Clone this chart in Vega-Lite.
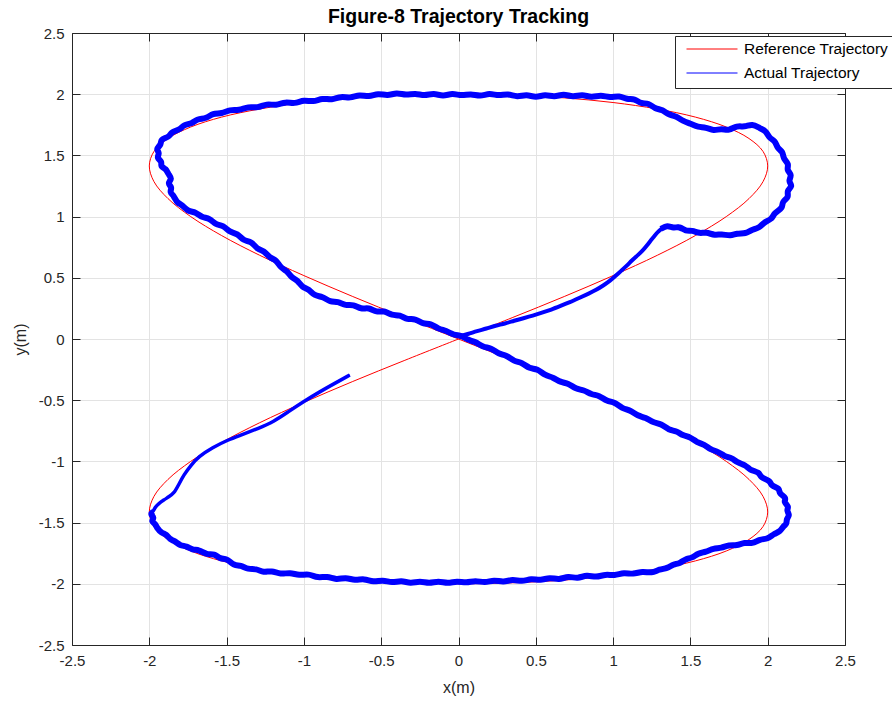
{
  "$schema": "https://vega.github.io/schema/vega-lite/v6.json",
  "width": 773,
  "height": 612,
  "autosize": {"type": "none"},
  "padding": {"left": 72, "top": 33, "right": 47, "bottom": 59},
  "background": "white",
  "title": {
    "text": "Figure-8 Trajectory Tracking",
    "font": "Liberation Sans",
    "fontSize": 19.5,
    "fontWeight": "bold",
    "color": "#000000",
    "anchor": "middle",
    "offset": -1
  },
  "datasets": {
    "reference": [
      {"x": 0, "y": 0}, {"x": 0.347, "y": 0.174}, {"x": 0.684, "y": 0.347}, {"x": 1.0, "y": 0.518},
      {"x": 1.286, "y": 0.684}, {"x": 1.532, "y": 0.845}, {"x": 1.732, "y": 1.0}, {"x": 1.879, "y": 1.147},
      {"x": 1.970, "y": 1.286}, {"x": 2.0, "y": 1.414}, {"x": 1.970, "y": 1.532}, {"x": 1.879, "y": 1.638},
      {"x": 1.732, "y": 1.732}, {"x": 1.532, "y": 1.813}, {"x": 1.286, "y": 1.879}, {"x": 1.0, "y": 1.932},
      {"x": 0.684, "y": 1.970}, {"x": 0.347, "y": 1.992}, {"x": 0, "y": 2.0}, {"x": -0.347, "y": 1.992},
      {"x": -0.684, "y": 1.970}, {"x": -1.0, "y": 1.932}, {"x": -1.286, "y": 1.879}, {"x": -1.532, "y": 1.813},
      {"x": -1.732, "y": 1.732}, {"x": -1.879, "y": 1.638}, {"x": -1.970, "y": 1.532}, {"x": -2.0, "y": 1.414},
      {"x": -1.970, "y": 1.286}, {"x": -1.879, "y": 1.147}, {"x": -1.732, "y": 1.0}, {"x": -1.532, "y": 0.845},
      {"x": -1.286, "y": 0.684}, {"x": -1.0, "y": 0.518}, {"x": -0.684, "y": 0.347}, {"x": -0.347, "y": 0.174},
      {"x": 0, "y": 0}, {"x": 0.347, "y": -0.174}, {"x": 0.684, "y": -0.347}, {"x": 1.0, "y": -0.518},
      {"x": 1.286, "y": -0.684}, {"x": 1.532, "y": -0.845}, {"x": 1.732, "y": -1.0}, {"x": 1.879, "y": -1.147},
      {"x": 1.970, "y": -1.286}, {"x": 2.0, "y": -1.414}, {"x": 1.970, "y": -1.532}, {"x": 1.879, "y": -1.638},
      {"x": 1.732, "y": -1.732}, {"x": 1.532, "y": -1.813}, {"x": 1.286, "y": -1.879}, {"x": 1.0, "y": -1.932},
      {"x": 0.684, "y": -1.970}, {"x": 0.347, "y": -1.992}, {"x": 0, "y": -2.0}, {"x": -0.347, "y": -1.992},
      {"x": -0.684, "y": -1.970}, {"x": -1.0, "y": -1.932}, {"x": -1.286, "y": -1.879}, {"x": -1.532, "y": -1.813},
      {"x": -1.732, "y": -1.732}, {"x": -1.879, "y": -1.638}, {"x": -1.970, "y": -1.532}, {"x": -2.0, "y": -1.414},
      {"x": -1.970, "y": -1.286}, {"x": -1.879, "y": -1.147}, {"x": -1.732, "y": -1.0}, {"x": -1.532, "y": -0.845},
      {"x": -1.286, "y": -0.684}, {"x": -1.0, "y": -0.518}, {"x": -0.684, "y": -0.347}, {"x": -0.347, "y": -0.174},
      {"x": 0, "y": 0}
    ],
    "actual": [
      {"x": -0.703, "y": -0.294}, {"x": -0.80, "y": -0.362}, {"x": -0.90, "y": -0.433}, {"x": -1.0, "y": -0.51},
      {"x": -1.10, "y": -0.594}, {"x": -1.195, "y": -0.676}, {"x": -1.30, "y": -0.733}, {"x": -1.40, "y": -0.782},
      {"x": -1.496, "y": -0.827}, {"x": -1.59, "y": -0.886}, {"x": -1.68, "y": -0.96}, {"x": -1.73, "y": -1.03},
      {"x": -1.777, "y": -1.11}, {"x": -1.81, "y": -1.19}, {"x": -1.84, "y": -1.26}, {"x": -1.875, "y": -1.29},
      {"x": -1.906, "y": -1.315}, {"x": -1.94, "y": -1.345}, {"x": -1.96, "y": -1.37}, {"x": -1.975, "y": -1.41},
      {"x": -1.995, "y": -1.43}, {"x": -1.965, "y": -1.46}, {"x": -1.99, "y": -1.49}, {"x": -1.96, "y": -1.51},
      {"x": -1.95, "y": -1.545}, {"x": -1.92, "y": -1.585}, {"x": -1.89, "y": -1.595}, {"x": -1.865, "y": -1.64},
      {"x": -1.84, "y": -1.645}, {"x": -1.80, "y": -1.69}, {"x": -1.76, "y": -1.69}, {"x": -1.72, "y": -1.725},
      {"x": -1.68, "y": -1.72}, {"x": -1.626, "y": -1.765}, {"x": -1.58, "y": -1.75}, {"x": -1.54, "y": -1.80},
      {"x": -1.50, "y": -1.79}, {"x": -1.45, "y": -1.855}, {"x": -1.41, "y": -1.845}, {"x": -1.36, "y": -1.885},
      {"x": -1.31, "y": -1.875}, {"x": -1.26, "y": -1.91}, {"x": -1.21, "y": -1.89}, {"x": -1.15, "y": -1.925},
      {"x": -1.09, "y": -1.905}, {"x": -1.03, "y": -1.935}, {"x": -0.97, "y": -1.915}, {"x": -0.91, "y": -1.955},
      {"x": -0.85, "y": -1.935}, {"x": -0.79, "y": -1.97}, {"x": -0.73, "y": -1.945}, {"x": -0.67, "y": -1.975},
      {"x": -0.61, "y": -1.955}, {"x": -0.55, "y": -1.99}, {"x": -0.49, "y": -1.965}, {"x": -0.43, "y": -1.995},
      {"x": -0.37, "y": -1.97}, {"x": -0.31, "y": -2.0}, {"x": -0.25, "y": -1.975}, {"x": -0.19, "y": -2.0},
      {"x": -0.13, "y": -1.975}, {"x": -0.07, "y": -2.0}, {"x": -0.01, "y": -1.975}, {"x": 0.05, "y": -1.995},
      {"x": 0.11, "y": -1.97}, {"x": 0.17, "y": -1.995}, {"x": 0.23, "y": -1.965}, {"x": 0.29, "y": -1.99},
      {"x": 0.35, "y": -1.96}, {"x": 0.41, "y": -1.985}, {"x": 0.47, "y": -1.955}, {"x": 0.53, "y": -1.975},
      {"x": 0.59, "y": -1.945}, {"x": 0.65, "y": -1.97}, {"x": 0.71, "y": -1.935}, {"x": 0.77, "y": -1.96},
      {"x": 0.83, "y": -1.925}, {"x": 0.89, "y": -1.95}, {"x": 0.95, "y": -1.92}, {"x": 1.01, "y": -1.935},
      {"x": 1.07, "y": -1.905}, {"x": 1.13, "y": -1.925}, {"x": 1.19, "y": -1.895}, {"x": 1.25, "y": -1.915},
      {"x": 1.30, "y": -1.88}, {"x": 1.35, "y": -1.875}, {"x": 1.39, "y": -1.84}, {"x": 1.43, "y": -1.835},
      {"x": 1.47, "y": -1.795}, {"x": 1.51, "y": -1.79}, {"x": 1.55, "y": -1.75}, {"x": 1.60, "y": -1.74},
      {"x": 1.65, "y": -1.71}, {"x": 1.70, "y": -1.71}, {"x": 1.75, "y": -1.68}, {"x": 1.80, "y": -1.69},
      {"x": 1.85, "y": -1.66}, {"x": 1.90, "y": -1.675}, {"x": 1.95, "y": -1.635}, {"x": 2.00, "y": -1.635},
      {"x": 2.04, "y": -1.59}, {"x": 2.08, "y": -1.575}, {"x": 2.10, "y": -1.53}, {"x": 2.125, "y": -1.51},
      {"x": 2.12, "y": -1.47}, {"x": 2.145, "y": -1.44}, {"x": 2.12, "y": -1.40}, {"x": 2.14, "y": -1.37},
      {"x": 2.10, "y": -1.33}, {"x": 2.125, "y": -1.30}, {"x": 2.07, "y": -1.26}, {"x": 2.08, "y": -1.22},
      {"x": 2.02, "y": -1.20}, {"x": 2.02, "y": -1.16}, {"x": 1.95, "y": -1.13}, {"x": 1.95, "y": -1.09},
      {"x": 1.88, "y": -1.07}, {"x": 1.86, "y": -1.03}, {"x": 1.80, "y": -1.01}, {"x": 1.77, "y": -0.97},
      {"x": 1.72, "y": -0.96}, {"x": 1.68, "y": -0.92}, {"x": 1.63, "y": -0.905}, {"x": 1.59, "y": -0.86},
      {"x": 1.54, "y": -0.845}, {"x": 1.50, "y": -0.80}, {"x": 1.45, "y": -0.79}, {"x": 1.41, "y": -0.75},
      {"x": 1.36, "y": -0.745}, {"x": 1.31, "y": -0.69}, {"x": 1.26, "y": -0.685}, {"x": 1.21, "y": -0.64},
      {"x": 1.16, "y": -0.63}, {"x": 1.11, "y": -0.58}, {"x": 1.06, "y": -0.57}, {"x": 1.01, "y": -0.515},
      {"x": 0.96, "y": -0.51}, {"x": 0.91, "y": -0.46}, {"x": 0.86, "y": -0.455}, {"x": 0.81, "y": -0.415},
      {"x": 0.76, "y": -0.41}, {"x": 0.71, "y": -0.36}, {"x": 0.66, "y": -0.355}, {"x": 0.61, "y": -0.31},
      {"x": 0.56, "y": -0.30}, {"x": 0.51, "y": -0.24}, {"x": 0.46, "y": -0.245}, {"x": 0.41, "y": -0.19},
      {"x": 0.36, "y": -0.185}, {"x": 0.31, "y": -0.13}, {"x": 0.26, "y": -0.125}, {"x": 0.21, "y": -0.07},
      {"x": 0.16, "y": -0.07}, {"x": 0.11, "y": -0.02}, {"x": 0.06, "y": -0.01}, {"x": 0.02, "y": 0.03},
      {"x": -0.03, "y": 0.03}, {"x": -0.08, "y": 0.07}, {"x": -0.13, "y": 0.08}, {"x": -0.18, "y": 0.13},
      {"x": -0.23, "y": 0.12}, {"x": -0.28, "y": 0.17}, {"x": -0.33, "y": 0.155}, {"x": -0.38, "y": 0.20},
      {"x": -0.43, "y": 0.19}, {"x": -0.48, "y": 0.235}, {"x": -0.53, "y": 0.215}, {"x": -0.58, "y": 0.26},
      {"x": -0.63, "y": 0.24}, {"x": -0.68, "y": 0.285}, {"x": -0.73, "y": 0.27}, {"x": -0.78, "y": 0.31},
      {"x": -0.83, "y": 0.30}, {"x": -0.88, "y": 0.35}, {"x": -0.93, "y": 0.35}, {"x": -0.97, "y": 0.41},
      {"x": -1.01, "y": 0.42}, {"x": -1.04, "y": 0.48}, {"x": -1.08, "y": 0.50}, {"x": -1.11, "y": 0.56},
      {"x": -1.15, "y": 0.58}, {"x": -1.18, "y": 0.65}, {"x": -1.22, "y": 0.66}, {"x": -1.26, "y": 0.725},
      {"x": -1.30, "y": 0.73}, {"x": -1.34, "y": 0.80}, {"x": -1.39, "y": 0.80}, {"x": -1.43, "y": 0.865},
      {"x": -1.48, "y": 0.87}, {"x": -1.52, "y": 0.93}, {"x": -1.57, "y": 0.93}, {"x": -1.61, "y": 0.99},
      {"x": -1.66, "y": 0.99}, {"x": -1.70, "y": 1.04}, {"x": -1.75, "y": 1.04}, {"x": -1.79, "y": 1.10},
      {"x": -1.82, "y": 1.11}, {"x": -1.84, "y": 1.17}, {"x": -1.87, "y": 1.20}, {"x": -1.85, "y": 1.24},
      {"x": -1.885, "y": 1.27}, {"x": -1.85, "y": 1.31}, {"x": -1.88, "y": 1.35}, {"x": -1.89, "y": 1.39},
      {"x": -1.93, "y": 1.41}, {"x": -1.915, "y": 1.45}, {"x": -1.955, "y": 1.48}, {"x": -1.93, "y": 1.52},
      {"x": -1.96, "y": 1.55}, {"x": -1.92, "y": 1.59}, {"x": -1.93, "y": 1.63}, {"x": -1.87, "y": 1.65},
      {"x": -1.86, "y": 1.69}, {"x": -1.80, "y": 1.71}, {"x": -1.78, "y": 1.75}, {"x": -1.72, "y": 1.76},
      {"x": -1.69, "y": 1.80}, {"x": -1.63, "y": 1.80}, {"x": -1.59, "y": 1.845}, {"x": -1.53, "y": 1.84},
      {"x": -1.48, "y": 1.875}, {"x": -1.42, "y": 1.865}, {"x": -1.36, "y": 1.90}, {"x": -1.30, "y": 1.885},
      {"x": -1.24, "y": 1.925}, {"x": -1.18, "y": 1.905}, {"x": -1.12, "y": 1.94}, {"x": -1.06, "y": 1.92},
      {"x": -1.00, "y": 1.955}, {"x": -0.94, "y": 1.935}, {"x": -0.88, "y": 1.97}, {"x": -0.82, "y": 1.95},
      {"x": -0.76, "y": 1.985}, {"x": -0.70, "y": 1.965}, {"x": -0.64, "y": 2.0}, {"x": -0.58, "y": 1.975},
      {"x": -0.52, "y": 2.01}, {"x": -0.46, "y": 1.985}, {"x": -0.40, "y": 2.015}, {"x": -0.34, "y": 1.99},
      {"x": -0.28, "y": 2.01}, {"x": -0.22, "y": 1.985}, {"x": -0.16, "y": 2.01}, {"x": -0.10, "y": 1.98},
      {"x": -0.04, "y": 2.01}, {"x": 0.02, "y": 1.985}, {"x": 0.08, "y": 2.005}, {"x": 0.14, "y": 1.98},
      {"x": 0.20, "y": 2.01}, {"x": 0.26, "y": 1.985}, {"x": 0.32, "y": 2.005}, {"x": 0.38, "y": 1.975},
      {"x": 0.44, "y": 2.0}, {"x": 0.50, "y": 1.97}, {"x": 0.56, "y": 2.0}, {"x": 0.62, "y": 1.975},
      {"x": 0.68, "y": 2.005}, {"x": 0.74, "y": 1.975}, {"x": 0.80, "y": 2.0}, {"x": 0.86, "y": 1.97},
      {"x": 0.92, "y": 1.995}, {"x": 0.98, "y": 1.97}, {"x": 1.04, "y": 1.99}, {"x": 1.09, "y": 1.955},
      {"x": 1.14, "y": 1.965}, {"x": 1.18, "y": 1.92}, {"x": 1.23, "y": 1.93}, {"x": 1.27, "y": 1.88},
      {"x": 1.32, "y": 1.875}, {"x": 1.36, "y": 1.83}, {"x": 1.41, "y": 1.82}, {"x": 1.45, "y": 1.78},
      {"x": 1.50, "y": 1.76}, {"x": 1.55, "y": 1.73}, {"x": 1.60, "y": 1.73}, {"x": 1.65, "y": 1.70},
      {"x": 1.70, "y": 1.72}, {"x": 1.75, "y": 1.70}, {"x": 1.80, "y": 1.745}, {"x": 1.85, "y": 1.73},
      {"x": 1.90, "y": 1.76}, {"x": 1.95, "y": 1.72}, {"x": 1.99, "y": 1.70}, {"x": 2.01, "y": 1.64},
      {"x": 2.05, "y": 1.62}, {"x": 2.06, "y": 1.56}, {"x": 2.10, "y": 1.53}, {"x": 2.10, "y": 1.47},
      {"x": 2.14, "y": 1.43}, {"x": 2.12, "y": 1.38}, {"x": 2.16, "y": 1.34}, {"x": 2.13, "y": 1.29},
      {"x": 2.165, "y": 1.25}, {"x": 2.12, "y": 1.21}, {"x": 2.14, "y": 1.16}, {"x": 2.09, "y": 1.12},
      {"x": 2.10, "y": 1.07}, {"x": 2.04, "y": 1.03}, {"x": 2.03, "y": 0.98}, {"x": 1.97, "y": 0.95},
      {"x": 1.95, "y": 0.91}, {"x": 1.89, "y": 0.89}, {"x": 1.86, "y": 0.86}, {"x": 1.80, "y": 0.865},
      {"x": 1.76, "y": 0.84}, {"x": 1.70, "y": 0.86}, {"x": 1.66, "y": 0.845}, {"x": 1.60, "y": 0.875},
      {"x": 1.56, "y": 0.86}, {"x": 1.51, "y": 0.89}, {"x": 1.47, "y": 0.88}, {"x": 1.43, "y": 0.92},
      {"x": 1.39, "y": 0.905}, {"x": 1.35, "y": 0.93}, {"x": 1.31, "y": 0.90}, {"x": 1.285, "y": 0.87},
      {"x": 1.26, "y": 0.83}, {"x": 1.24, "y": 0.80}, {"x": 1.22, "y": 0.765}, {"x": 1.19, "y": 0.72},
      {"x": 1.16, "y": 0.685}, {"x": 1.12, "y": 0.64}, {"x": 1.09, "y": 0.60}, {"x": 1.05, "y": 0.555},
      {"x": 1.02, "y": 0.52}, {"x": 0.98, "y": 0.475}, {"x": 0.94, "y": 0.44}, {"x": 0.89, "y": 0.40},
      {"x": 0.84, "y": 0.37}, {"x": 0.78, "y": 0.335}, {"x": 0.72, "y": 0.30}, {"x": 0.66, "y": 0.27},
      {"x": 0.60, "y": 0.24}, {"x": 0.54, "y": 0.215}, {"x": 0.48, "y": 0.19}, {"x": 0.42, "y": 0.17},
      {"x": 0.36, "y": 0.15}, {"x": 0.30, "y": 0.125}, {"x": 0.24, "y": 0.11}, {"x": 0.18, "y": 0.085},
      {"x": 0.12, "y": 0.065}, {"x": 0.06, "y": 0.04}, {"x": 0.0, "y": 0.02}
    ]
  },
  "layer": [
    {
      "data": {"name": "reference"},
      "transform": [{"window": [{"op": "row_number", "as": "k"}]}],
      "mark": {"type": "line", "strokeWidth": 1, "interpolate": "catmull-rom"},
      "encoding": {
        "x": {
          "field": "x", "type": "quantitative",
          "scale": {"domain": [-2.5, 2.5], "nice": false, "zero": false},
          "axis": {
            "orient": "bottom", "title": "x(m)",
            "values": [-2.5, -2, -1.5, -1, -0.5, 0, 0.5, 1, 1.5, 2, 2.5],
            "labelExpr": "'' + datum.value",
            "grid": true, "tickSize": -8, "labelPadding": 16, "titlePadding": 11
          }
        },
        "y": {
          "field": "y", "type": "quantitative",
          "scale": {"domain": [-2.5, 2.5], "nice": false, "zero": false},
          "axis": {
            "orient": "left", "title": "y(m)",
            "values": [-2.5, -2, -1.5, -1, -0.5, 0, 0.5, 1, 1.5, 2, 2.5],
            "labelExpr": "'' + datum.value",
            "grid": true, "tickSize": -8, "labelPadding": 16, "titlePadding": 10
          }
        },
        "order": {"field": "k", "type": "quantitative"},
        "color": {
          "datum": "Reference Trajectory",
          "scale": {"domain": ["Reference Trajectory", "Actual Trajectory"], "range": ["#ff0000", "#0000ff"]}
        }
      }
    },
    {
      "data": {"name": "actual"},
      "transform": [
        {"window": [{"op": "row_number", "as": "k"}]},
        {"filter": "datum.k <= 21"}
      ],
      "mark": {"type": "line", "strokeWidth": 3.5, "interpolate": "basis"},
      "encoding": {
        "x": {
          "field": "x", "type": "quantitative",
          "axis": {
            "orient": "top", "title": null, "labels": false, "grid": false,
            "values": [-2.5, -2, -1.5, -1, -0.5, 0, 0.5, 1, 1.5, 2, 2.5],
            "tickSize": -8
          }
        },
        "y": {
          "field": "y", "type": "quantitative",
          "axis": {
            "orient": "right", "title": null, "labels": false, "grid": false,
            "values": [-2.5, -2, -1.5, -1, -0.5, 0, 0.5, 1, 1.5, 2, 2.5],
            "tickSize": -8
          }
        },
        "order": {"field": "k", "type": "quantitative"},
        "color": {"datum": "Actual Trajectory"}
      }
    },
    {
      "data": {"name": "actual"},
      "transform": [
        {"window": [{"op": "row_number", "as": "k"}]},
        {"filter": "datum.k >= 20 && datum.k <= 315"}
      ],
      "mark": {"type": "line", "strokeWidth": 6, "interpolate": "basis"},
      "encoding": {
        "x": {"field": "x", "type": "quantitative", "axis": null},
        "y": {"field": "y", "type": "quantitative", "axis": null},
        "order": {"field": "k", "type": "quantitative"},
        "color": {"datum": "Actual Trajectory"}
      }
    },
    {
      "data": {"name": "actual"},
      "transform": [
        {"window": [{"op": "row_number", "as": "k"}]},
        {"filter": "datum.k >= 312"}
      ],
      "mark": {"type": "line", "strokeWidth": 4, "interpolate": "basis"},
      "encoding": {
        "x": {"field": "x", "type": "quantitative", "axis": null},
        "y": {"field": "y", "type": "quantitative", "axis": null},
        "order": {"field": "k", "type": "quantitative"},
        "color": {"datum": "Actual Trajectory"}
      }
    },
    {
      "data": {"name": "actual"},
      "transform": [{"window": [{"op": "row_number", "as": "k"}]}],
      "mark": {"type": "line", "strokeWidth": 1.2},
      "encoding": {
        "x": {"field": "x", "type": "quantitative", "axis": null},
        "y": {"field": "y", "type": "quantitative", "axis": null},
        "order": {"field": "k", "type": "quantitative"},
        "color": {"datum": "Actual Trajectory"}
      }
    }
  ],
  "resolve": {"axis": {"x": "independent", "y": "independent"}},
  "config": {
    "view": {"stroke": null},
    "font": "Liberation Sans",
    "axis": {
      "domainColor": "#262626",
      "domainWidth": 1,
      "tickColor": "#262626",
      "tickWidth": 1,
      "gridColor": "#e3e3e3",
      "gridWidth": 1,
      "labelColor": "#262626",
      "labelFont": "Liberation Sans",
      "labelFontSize": 15,
      "labelFlush": false,
      "labelOverlap": false,
      "titleColor": "#262626",
      "titleFont": "Liberation Sans",
      "titleFontSize": 16,
      "titleFontWeight": "normal"
    },
    "legend": {
      "orient": "none",
      "legendX": 603,
      "legendY": 3,
      "title": null,
      "fillColor": "white",
      "strokeColor": "#262626",
      "padding": 6,
      "clipHeight": 14,
      "symbolType": "stroke",
      "symbolSize": 2601,
      "symbolStrokeWidth": 1,
      "symbolOffset": 5,
      "labelFont": "Liberation Sans",
      "labelFontSize": 15.5,
      "labelColor": "#000000",
      "labelOffset": 6,
      "rowPadding": 8
    }
  }
}
